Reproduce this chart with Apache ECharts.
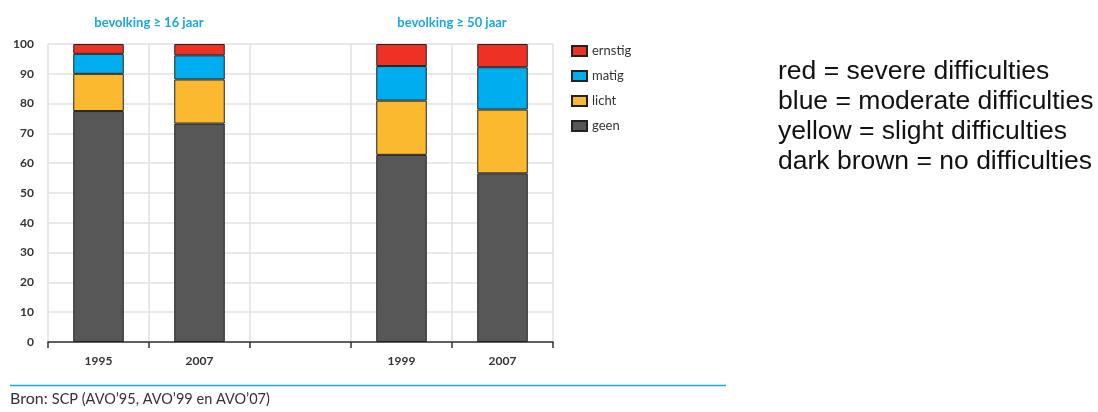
<!DOCTYPE html>
<html>
<head>
<meta charset="utf-8">
<script src="https://cdn.jsdelivr.net/npm/echarts@6/dist/echarts.min.js"></script>
<style>
  html, body { margin: 0; padding: 0; background: #fff; }
  #main { width: 1098px; height: 412px; }
</style>
</head>
<body>
<div id="main"></div>
<script>
// categorieen: 1995/2007 (>=16 jaar), lege kolom, 1999/2007 (>=50 jaar)
var years = ['1995', '2007', '', '1999', '2007'];
var yTicks = [0, 10, 20, 30, 40, 50, 60, 70, 80, 90, 100];

// percentages per niveau van moeilijkheden
var geen = [77.5, 73.3, null, 62.8, 56.6];
var licht = [12.5, 14.8, null, 18.2, 21.4];
var matig = [6.7, 8.1, null, 11.6, 14.2];
var ernstig = [3.3, 3.8, null, 7.4, 7.8];

var notes = [
    'red = severe difficulties',
    'blue = moderate difficulties',
    'yellow = slight difficulties',
    'dark brown = no difficulties'
];

var colors = {geen: '#575757', licht: '#fbb92f', matig: '#00aeef', ernstig: '#ee3124'};
var labelFont = 'Lato';

function bar(name, data) {
    return {
        name: name,
        type: 'bar',
        stack: 'totaal',
        barWidth: '50%',
        data: data,
        itemStyle: {color: colors[name], borderColor: '#222', borderWidth: 1}
    };
}

var myChart = echarts.init(document.getElementById('main'));

var option = {
    animation: false,
    backgroundColor: '#fff',
    grid: {left: 48, right: 545, top: 44, bottom: 70},
    legend: {
        orient: 'vertical',
        left: 566,
        top: 38,
        icon: 'rect',
        itemWidth: 15,
        itemHeight: 10,
        itemGap: 9,
        data: ['ernstig', 'matig', 'licht', 'geen'],
        textStyle: {fontFamily: labelFont, fontSize: 13, color: '#333', lineHeight: 16}
    },
    title: [
        {
            text: 'bevolking ≥ 16 jaar',
            left: 144, top: 11, textAlign: 'center',
            textStyle: {fontFamily: labelFont, fontSize: 13, fontWeight: 'bold', color: '#1aa7e1'}
        },
        {
            text: 'bevolking ≥ 50 jaar',
            left: 447, top: 11, textAlign: 'center',
            textStyle: {fontFamily: labelFont, fontSize: 13, fontWeight: 'bold', color: '#1aa7e1'}
        }
    ],
    xAxis: {
        type: 'category',
        data: years,
        axisLine: {lineStyle: {color: '#333', width: 1.5}},
        axisTick: {show: true, length: 6, interval: 0, lineStyle: {color: '#333', width: 1.5}},
        axisLabel: {interval: 0, margin: 13, fontFamily: labelFont, fontSize: 12, fontWeight: 'bold', color: '#333'},
        splitLine: {show: true, interval: 0, lineStyle: {color: '#e0e0e0', width: 1.5}}
    },
    yAxis: {
        type: 'value',
        min: yTicks[0],
        max: yTicks[yTicks.length - 1],
        interval: 10,
        axisLine: {show: false},
        axisTick: {show: false},
        axisLabel: {margin: 14, fontFamily: labelFont, fontSize: 12, fontWeight: 'bold', color: '#333'},
        splitLine: {lineStyle: {color: '#e0e0e0', width: 1.5}}
    },
    series: [
        bar('geen', geen),
        bar('licht', licht),
        bar('matig', matig),
        bar('ernstig', ernstig)
    ],
    graphic: [
        {
            type: 'line',
            shape: {x1: 10, y1: 385.5, x2: 726, y2: 385.5},
            style: {stroke: '#1aa7e1', lineWidth: 1.5}
        },
        {
            type: 'text',
            left: 10, top: 391,
            style: {
                text: '{a|Bron: }{b|SCP (AVO’95, AVO’99 en AVO’07)}',
                rich: {
                    a: {fontFamily: labelFont, fontSize: 16, fill: '#333'},
                    b: {fontFamily: labelFont, fontSize: 14.5, fill: '#333'}
                }
            }
        },
        {
            type: 'text',
            left: 778, top: 57,
            style: {
                text: notes.join('\n'),
                fontFamily: 'Liberation Sans',
                fontSize: 26.5,
                lineHeight: 30,
                fill: '#111'
            }
        }
    ]
};

myChart.setOption(option);
</script>
</body>
</html>
